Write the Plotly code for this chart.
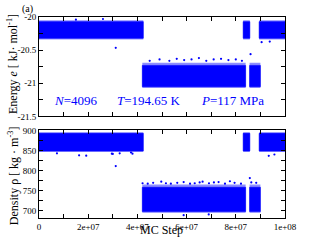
import plotly.graph_objects as go

# ---- data ----
# phase segments along the MC run (start, end) and which phase they are
seg_start = [0.0, 4.2e7, 8.3e7, 8.56e7, 8.95e7]
seg_end = [4.24e7, 8.4e7, 8.57e7, 9.0e7, 1.0e8]
seg_phase = ["high", "low", "high", "low", "high"]

# dense band limits of the sampled energy / density for each phase
energy_band = {"high": (-20.32, -20.07), "low": (-21.05, -20.73)}
density_band = {"high": (849.0, 893.0), "low": (697.0, 758.0)}
# sparser fringe around each dense band
energy_fringe = {"high": (-20.34, -20.05), "low": (-21.07, -20.69)}
density_fringe = {"high": (846.0, 896.0), "low": (694.0, 765.0)}

# scattered points outside the dense bands
energy_out_x = [3.12e7, 4.5e7, 4.9e7, 5.3e7, 5.6e7, 5.9e7, 6.2e7, 6.5e7, 6.8e7,
                7.1e7, 7.4e7, 7.7e7, 8.0e7, 8.25e7, 8.6e7, 9.05e7, 9.38e7, 1.5e7, 2.6e7]
energy_out_y = [-20.465, -20.66, -20.64, -20.66, -20.63, -20.65, -20.64, -20.62, -20.66,
                -20.64, -20.63, -20.65, -20.64, -20.66, -20.56, -20.38, -20.37, -20.04, -20.03]

density_out_x = [7.3e6, 1.63e7, 1.92e7, 2.96e7, 3.0e7, 3.12e7, 3.28e7, 3.74e7, 3.8e7,
                 4.21e7, 4.42e7, 4.64e7, 4.97e7, 5.16e7, 5.36e7, 5.62e7, 5.88e7, 6.14e7,
                 6.33e7, 6.53e7, 6.65e7, 6.91e7, 7.11e7, 7.3e7, 7.56e7, 7.76e7, 7.95e7,
                 8.21e7, 8.57e7, 8.63e7, 8.83e7, 9.34e7, 9.57e7, 5.88e7, 6.9e7]
density_out_y = [843, 838, 837, 842, 841.5, 811, 843, 845, 842,
                 768, 767, 769, 772, 768, 767, 769, 771, 767,
                 768, 770, 772, 768, 770, 771, 767, 773, 769,
                 767, 781, 770, 769, 836.6, 840, 688, 690]

x_tickvals = [0, 2e7, 4e7, 6e7, 8e7, 1e8]
x_ticktext = ["0", "2e+07", "4e+07", "6e+07", "8e+07", "1e+08"]
e_tickvals = [-21.5, -21, -20.5, -20]
e_ticktext = ["-21.5", "-21", "-20.5", "-20"]
d_tickvals = [700, 750, 800, 850, 900]
d_ticktext = ["700", "750", "800", "850", "900"]

BLUE = "#0000ff"
FRINGE = "rgba(0,0,255,0.45)"
FONT = "Liberation Serif"


def band_polygon(bands):
    xs, ys = [], []
    for s, e, ph in zip(seg_start, seg_end, seg_phase):
        lo, hi = bands[ph]
        xs += [s, e, e, s, s, None]
        ys += [lo, lo, hi, hi, lo, None]
    return xs, ys


fig = go.Figure()


def add_panel(bands, fringe, out_x, out_y, xa, ya):
    fx, fy = band_polygon(fringe)
    fig.add_trace(go.Scatter(x=fx, y=fy, fill="toself", fillcolor=FRINGE, mode="lines",
                             line=dict(width=0), xaxis=xa, yaxis=ya,
                             hoverinfo="skip", showlegend=False))
    bx, by = band_polygon(bands)
    fig.add_trace(go.Scatter(x=bx, y=by, fill="toself", fillcolor=BLUE, mode="lines",
                             line=dict(width=0.6, color=BLUE), xaxis=xa, yaxis=ya,
                             hoverinfo="skip", showlegend=False))
    fig.add_trace(go.Scatter(x=out_x, y=out_y, mode="markers",
                             marker=dict(size=2.2, color=BLUE), xaxis=xa, yaxis=ya,
                             showlegend=False))


add_panel(energy_band, energy_fringe, energy_out_x, energy_out_y, "x", "y")
add_panel(density_band, density_fringe, density_out_x, density_out_y, "x2", "y2")

axis_common = dict(showline=True, linecolor="black", linewidth=1, mirror="allticks",
                   ticks="inside", ticklen=4, tickcolor="black", tickwidth=1,
                   showgrid=False, zeroline=False,
                   tickfont=dict(family=FONT, size=9, color="black"))

fig.update_layout(
    width=309, height=244,
    margin=dict(l=39, r=13, t=13, b=25),
    paper_bgcolor="white", plot_bgcolor="white",
    font=dict(family=FONT, color="black"),
    xaxis=dict(domain=[0, 1], range=[0, 1e8], anchor="y", showticklabels=False,
               tickvals=x_tickvals, ticktext=x_ticktext,
               minor=dict(ticks="inside", ticklen=4, dtick=1e7, tick0=0, tickcolor="black"),
               **axis_common),
    yaxis=dict(domain=[0.505, 1], range=[-21.5, -20], anchor="x",
               tickvals=e_tickvals, ticktext=e_ticktext,
               minor=dict(ticks="inside", ticklen=4, dtick=0.25, tick0=-21.5, tickcolor="black"),
               **axis_common),
    xaxis2=dict(domain=[0, 1], range=[0, 1e8], anchor="y2",
                tickvals=x_tickvals, ticktext=x_ticktext,
                minor=dict(ticks="inside", ticklen=4, dtick=1e7, tick0=0, tickcolor="black"),
                **axis_common),
    yaxis2=dict(domain=[0, 0.437], range=[681, 901], anchor="x2",
                tickvals=d_tickvals, ticktext=d_ticktext,
                minor=dict(ticks="inside", ticklen=4, dtick=25, tick0=700, tickcolor="black"),
                **axis_common),
)

annotations = [
    dict(text="(a)", x=27, y=5, font=dict(size=10)),
    dict(text="Energy <i>e</i> [ kJ· mol<sup>-1</sup>]", x=12, y=61, textangle=-90,
         font=dict(size=12)),
    dict(text="Density ρ [ kg · m<sup>-3</sup>]", x=12, y=176, textangle=-90,
         font=dict(size=12)),
    dict(text="MC Step", x=167, y=231, font=dict(size=12)),
    dict(text="<i>N</i>=4096", x=53, y=99, xanchor="left", font=dict(size=13, color=BLUE)),
    dict(text="<i>T</i>=194.65 K", x=118, y=99, xanchor="left", font=dict(size=13, color=BLUE)),
    dict(text="<i>P</i>=117 MPa", x=206, y=99, xanchor="left", font=dict(size=13, color=BLUE)),
]
for a in annotations:
    px, py = a.pop("x"), a.pop("y")
    a.setdefault("xanchor", "center")
    fig.add_annotation(xref="paper", yref="paper", showarrow=False,
                       x=(px - 39) / (309 - 39 - 13), y=(244 - 25 - py) / (244 - 13 - 25),
                       yanchor="middle", **a)

fig.write_html("out.html", config={"displayModeBar": False},
               post_script="document.body.style.margin='0';document.body.style.padding='0';")
